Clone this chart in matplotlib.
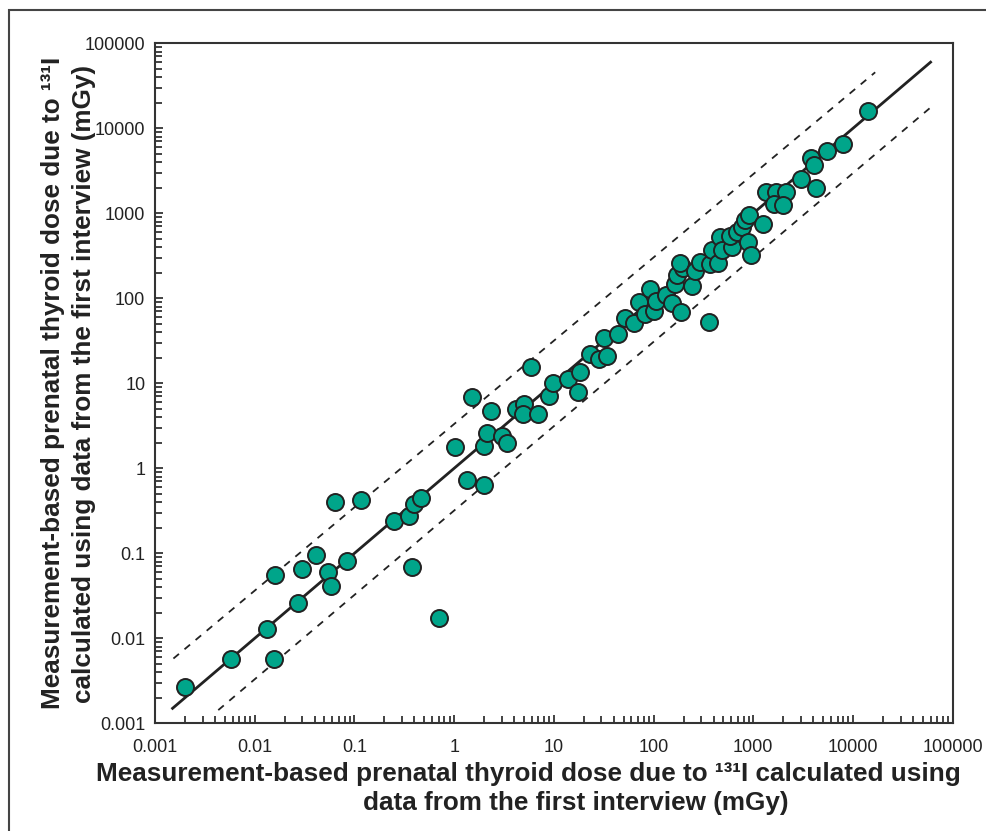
import matplotlib
matplotlib.use('Agg')
import matplotlib.pyplot as plt
from matplotlib.patches import Rectangle
from matplotlib.ticker import LogLocator, NullFormatter, FixedLocator, FixedFormatter

# dose from first interview (x) vs measurement-based dose (y), mGy
x_dose = [0.0020, 0.0058, 0.0156, 0.0132, 0.027, 0.016, 0.030, 0.041, 0.054, 0.058,
          0.084, 0.064, 0.116, 0.376, 0.70, 0.25, 0.356, 0.40, 0.47, 1.34,
          2.0, 1.03, 2.0, 2.12, 3.0, 3.37, 1.5, 2.33, 4.18, 4.97,
          4.88, 7.0, 9.0, 9.75, 13.9, 5.86, 17.5, 18.5, 22.8, 32,
          28.6, 34, 44, 52, 64, 72, 82, 92, 100, 107,
          133, 153, 187, 164, 171, 199, 185, 243, 258, 292,
          364, 384, 360, 447, 464, 483, 608, 585, 683, 767,
          828, 914, 893, 951, 1245, 1343, 1706, 2130, 1600, 1990,
          3020, 4270, 3780, 4080, 5460, 8020, 14300]
y_dose = [0.0027, 0.0057, 0.0057, 0.0128, 0.026, 0.056, 0.066, 0.095, 0.061, 0.041,
          0.081, 0.40, 0.42, 0.069, 0.0175, 0.237, 0.277, 0.385, 0.45, 0.73,
          0.64, 1.78, 1.85, 2.58, 2.38, 2.0, 6.9, 4.7, 5.0, 5.65,
          4.3, 4.3, 7.0, 9.95, 11.3, 15.4, 8.0, 13.6, 22.2, 34,
          19.5, 21, 38, 59, 51, 90, 65, 127, 70, 92,
          110, 87, 69, 149, 189, 225, 258, 141, 209, 267,
          256, 371, 52, 258, 530, 371, 405, 545, 607, 695,
          832, 960, 463, 324, 743, 1770, 1800, 1790, 1270, 1260,
          2520, 1990, 4480, 3670, 5360, 6580, 15800]

# reference lines (endpoints)
line_x = [0.0015, 60000]
line_y = [0.0015, 60000]
upper_x = [0.00153, 16700]
upper_y = [0.00578, 45600]
lower_x = [0.00431, 61700]
lower_y = [0.00143, 18070]

decades = [0.001, 0.01, 0.1, 1, 10, 100, 1000, 10000, 100000]
decade_labels = ['0.001', '0.01', '0.1', '1', '10', '100', '1000', '10000', '100000']

tick_font = ['Liberation Sans', 'DejaVu Sans']
label_font = ['Liberation Sans', 'DejaVu Sans']
ink = '#222222'

fig = plt.figure(figsize=(9.86, 8.31), dpi=100)
fig.patches.append(Rectangle((9 / 986, -0.1), 1.2, 1.1 - 10 / 831,
                             transform=fig.transFigure, fill=False,
                             edgecolor='#444444', linewidth=1.5))

ax = fig.add_axes([155 / 986, (831 - 723.3) / 831, 797.7 / 986, 680 / 831])
ax.set_xscale('log')
ax.set_yscale('log')
ax.set_xlim(0.001, 100000)
ax.set_ylim(0.001, 100000)

ax.plot(line_x, line_y, color=ink, lw=2.0, zorder=2)
ax.plot(upper_x, upper_y, color=ink, lw=1.3, ls=(0, (4, 4)), zorder=2)
ax.plot(lower_x, lower_y, color=ink, lw=1.3, ls=(0, (4, 4)), zorder=2)
ax.scatter(x_dose, y_dose, s=150, facecolor='#00a58a', edgecolor=ink,
           linewidth=1.4, zorder=3)

for a in (ax.xaxis, ax.yaxis):
    a.set_major_locator(FixedLocator(decades))
    a.set_major_formatter(FixedFormatter(decade_labels))
    a.set_minor_locator(LogLocator(base=10, subs=range(2, 10), numticks=20))
    a.set_minor_formatter(NullFormatter())

ax.tick_params(which='both', direction='in', top=False, right=False,
               color=ink, width=1.2)
ax.tick_params(which='major', length=6)
ax.tick_params(which='minor', length=5)
ax.tick_params(axis='x', which='major', pad=11)
ax.tick_params(axis='y', which='major', pad=7)
for lab in ax.get_xticklabels() + ax.get_yticklabels():
    lab.set_family(tick_font)
    lab.set_fontsize(13)
    lab.set_color(ink)
for sp in ax.spines.values():
    sp.set_linewidth(1.5)
    sp.set_color('#333333')

lbl = dict(fontsize=18.8, fontweight='bold', family=label_font, color=ink)
fig.text(528 / 986, 1 - 774 / 831, 'Measurement-based prenatal thyroid dose due to ¹³¹I calculated using',
         ha='center', va='center', **lbl)
fig.text(576 / 986, 1 - 803 / 831, 'data from the first interview (mGy)',
         ha='center', va='center', **lbl)
fig.text(53 / 986, 1 - 383 / 831, 'Measurement-based prenatal thyroid dose due to ¹³¹I',
         ha='center', va='center', rotation=90, **lbl)
fig.text(84 / 986, 1 - 384 / 831, 'calculated using data from the first interview (mGy)',
         ha='center', va='center', rotation=90, **lbl)

fig.savefig('out.png', dpi=100)
